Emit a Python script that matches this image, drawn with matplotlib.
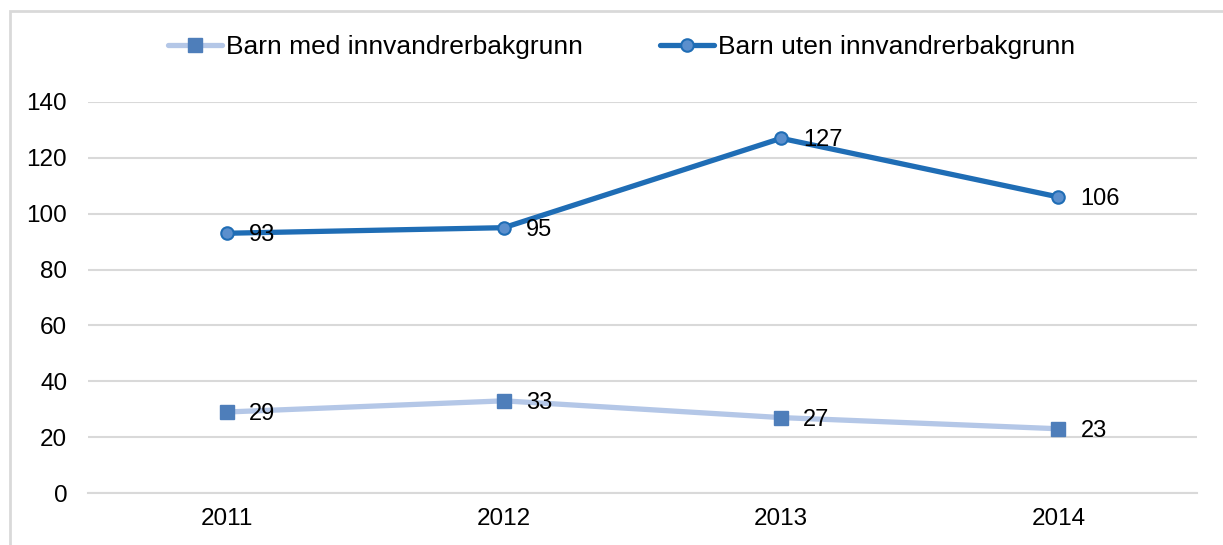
import matplotlib.pyplot as plt
from matplotlib.patches import Rectangle

plt.rcParams['font.family'] = ['Liberation Sans', 'DejaVu Sans']

years = ['2011', '2012', '2013', '2014']
med_innvandrer = [29, 33, 27, 23]
uten_innvandrer = [93, 95, 127, 106]

LIGHT_LINE = '#B4C7E7'
LIGHT_MARKER = '#4E7EBA'
DARK_LINE = '#1F6DB5'
DARK_MARKER = '#5B8FCD'
GRID = '#D9D9D9'

W, H = 1223, 545
fig = plt.figure(figsize=(W / 100, H / 100), dpi=100)
ax = fig.add_axes([88 / W, 1 - 493 / H, (1197 - 88) / W, (493 - 102) / H])

x = range(len(years))
ax.plot(x, med_innvandrer, color=LIGHT_LINE, lw=3.8, marker='s', ms=10.5,
        mfc=LIGHT_MARKER, mec=LIGHT_MARKER, label='Barn med innvandrerbakgrunn',
        solid_capstyle='round', zorder=3)
ax.plot(x, uten_innvandrer, color=DARK_LINE, lw=3.8, marker='o', ms=9,
        mfc=DARK_MARKER, mec=DARK_LINE, mew=1.5, label='Barn uten innvandrerbakgrunn',
        solid_capstyle='round', zorder=3)

# data labels to the right of each point
for series in (med_innvandrer, uten_innvandrer):
    for xi, v in zip(x, series):
        ax.annotate(str(v), (xi, v), xytext=(16, -1.5), textcoords='offset points',
                    ha='left', va='center', fontsize=17, color='black', zorder=4)

ax.set_xlim(-0.5, 3.5)
ax.set_ylim(0, 140)
ax.set_yticks(range(0, 141, 20))
ax.set_xticks(list(x))
ax.set_xticklabels(years)
ax.yaxis.grid(True, color=GRID, lw=1.5)
ax.set_axisbelow(True)
for s in ['top', 'right', 'left']:
    ax.spines[s].set_visible(False)
ax.spines['bottom'].set_color(GRID)
ax.spines['bottom'].set_linewidth(1.5)
ax.tick_params(axis='both', length=0, labelsize=17.5, colors='black')
ax.tick_params(axis='y', pad=15)
ax.tick_params(axis='x', pad=11)

fig.legend(loc='center', bbox_to_anchor=(621.5 / W, 1 - 47 / H), ncol=2, frameon=False,
           fontsize=19, handlelength=2.05, handletextpad=0.15, columnspacing=2.9)

# outer border of the chart area (partly cropped in the reference)
fig.patches.append(Rectangle((10 / W, -0.1), 1.2, 1.1 - 11 / H, transform=fig.transFigure,
                             fill=False, edgecolor=GRID, lw=2))

fig.savefig('out.png', dpi=100)
